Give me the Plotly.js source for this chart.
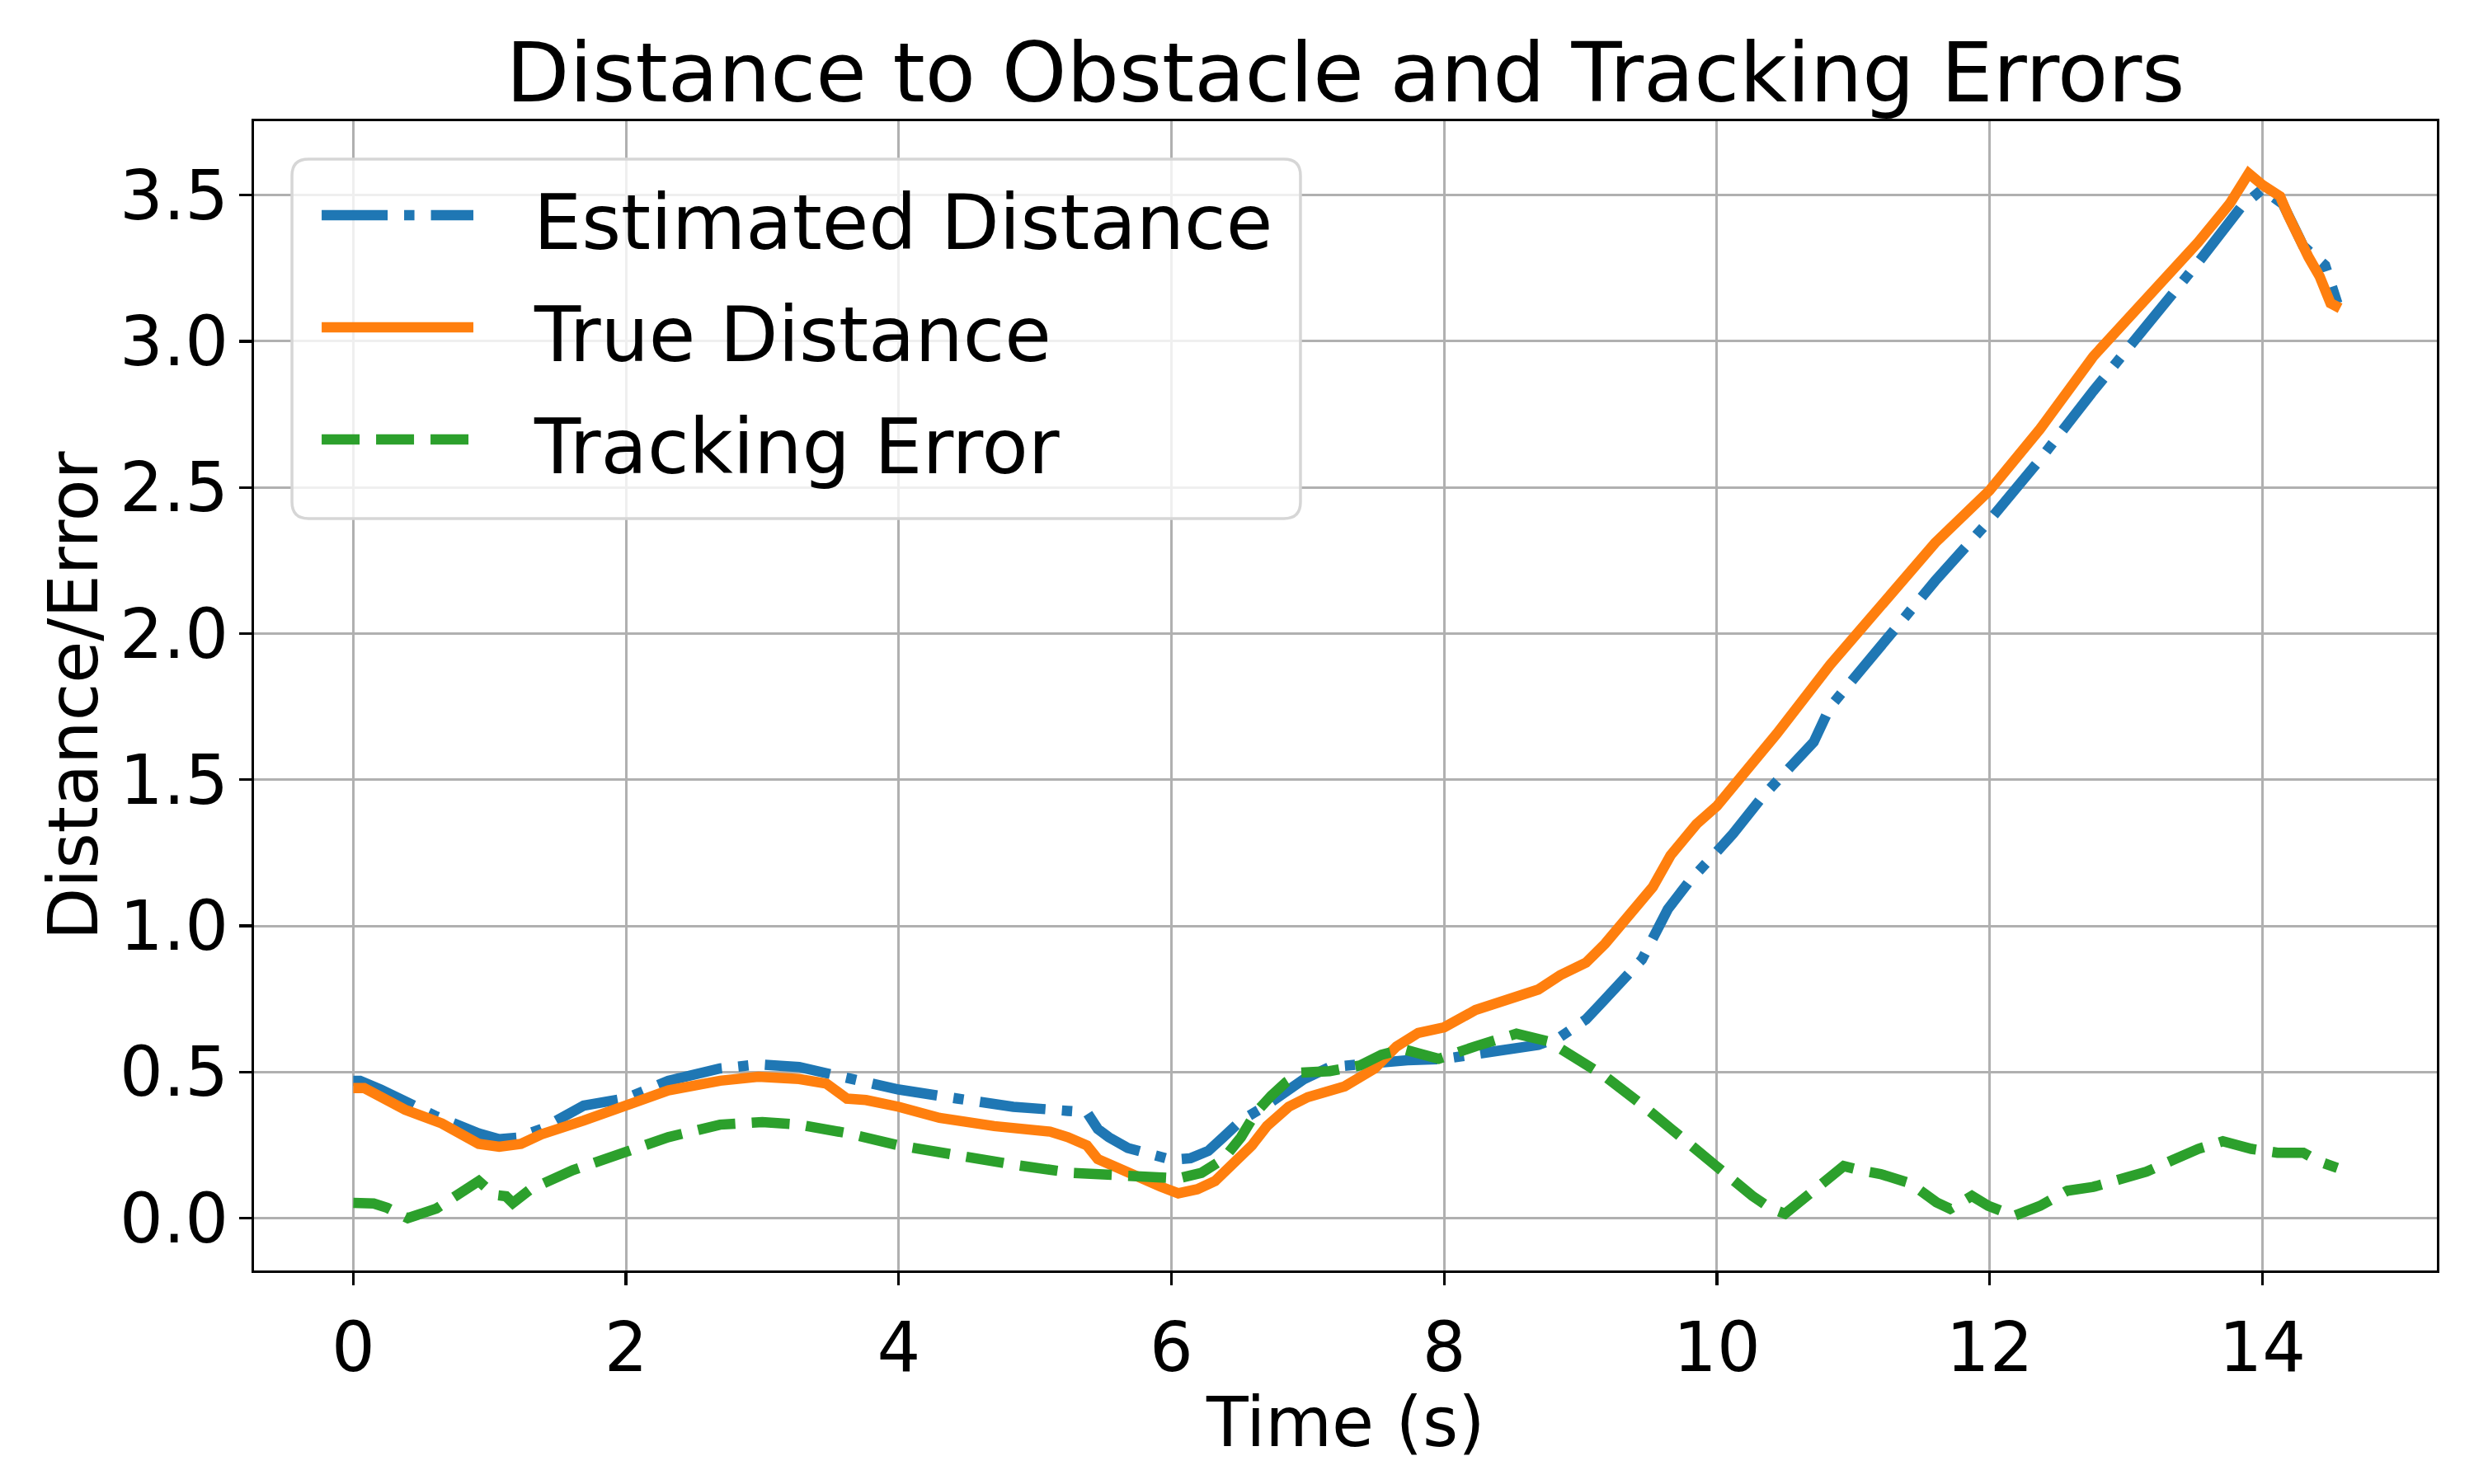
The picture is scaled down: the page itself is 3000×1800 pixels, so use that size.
<!DOCTYPE html>
<html>
<head>
<meta charset="utf-8">
<script src="https://cdn.plot.ly/plotly-3.0.1.min.js"></script>
<style>
  body { margin: 0; background: #fff; }
  #plot { width: 3000px; height: 1800px; }
</style>
</head>
<body>
<div id="plot"></div>
<script>
// values
const timeEst = [0.00, 0.05, 0.20, 0.38, 0.60, 0.92, 1.07, 1.20, 1.38, 1.69, 2.00, 2.31, 2.69, 2.97, 3.27, 3.62, 4.00, 4.43, 4.84, 5.24, 5.38, 5.46, 5.54, 5.68, 5.84, 6.00, 6.14, 6.27, 6.38, 6.51, 6.68, 6.84, 6.97, 7.16, 7.45, 7.73, 8.00, 8.37, 8.69, 8.85, 9.04, 9.15, 9.31, 9.45, 9.64, 9.80, 10.00, 10.12, 10.34, 10.55, 10.71, 10.83, 11.22, 11.60, 12.00, 12.37, 12.76, 13.15, 13.53, 13.84, 14.00, 14.15, 14.30, 14.46, 14.55];
const estDistance = [0.470, 0.470, 0.440, 0.400, 0.350, 0.290, 0.270, 0.275, 0.305, 0.385, 0.410, 0.470, 0.512, 0.526, 0.517, 0.480, 0.440, 0.409, 0.381, 0.367, 0.362, 0.305, 0.277, 0.240, 0.216, 0.200, 0.205, 0.230, 0.277, 0.334, 0.381, 0.428, 0.475, 0.517, 0.530, 0.540, 0.545, 0.566, 0.593, 0.620, 0.680, 0.734, 0.809, 0.885, 1.057, 1.154, 1.254, 1.316, 1.445, 1.543, 1.629, 1.749, 1.970, 2.180, 2.388, 2.596, 2.830, 3.050, 3.270, 3.457, 3.520, 3.470, 3.326, 3.260, 3.130];

const timeTrue = [0.00, 0.08, 0.38, 0.65, 0.92, 1.07, 1.23, 1.38, 1.69, 2.00, 2.31, 2.69, 2.97, 3.27, 3.47, 3.62, 3.76, 4.00, 4.30, 4.70, 5.11, 5.24, 5.38, 5.46, 5.59, 5.78, 5.92, 6.05, 6.19, 6.32, 6.46, 6.59, 6.70, 6.86, 7.00, 7.27, 7.49, 7.65, 7.81, 8.00, 8.23, 8.50, 8.69, 8.85, 9.04, 9.18, 9.37, 9.53, 9.66, 9.85, 10.00, 10.18, 10.44, 10.83, 11.22, 11.60, 12.00, 12.37, 12.76, 13.15, 13.53, 13.76, 13.90, 14.00, 14.13, 14.19, 14.25, 14.34, 14.42, 14.50, 14.57];
const trueDistance = [0.445, 0.445, 0.371, 0.324, 0.254, 0.244, 0.254, 0.287, 0.334, 0.390, 0.437, 0.470, 0.484, 0.476, 0.460, 0.409, 0.404, 0.381, 0.343, 0.315, 0.296, 0.277, 0.249, 0.202, 0.174, 0.132, 0.108, 0.085, 0.099, 0.127, 0.193, 0.249, 0.315, 0.381, 0.414, 0.451, 0.512, 0.587, 0.634, 0.653, 0.712, 0.755, 0.782, 0.831, 0.874, 0.939, 1.046, 1.133, 1.241, 1.348, 1.410, 1.510, 1.658, 1.893, 2.101, 2.310, 2.490, 2.700, 2.948, 3.144, 3.339, 3.470, 3.574, 3.535, 3.496, 3.430, 3.366, 3.287, 3.222, 3.130, 3.113];

const timeErr = [0.00, 0.15, 0.25, 0.40, 0.61, 0.92, 1.03, 1.12, 1.17, 1.30, 1.61, 2.00, 2.31, 2.69, 3.00, 3.27, 3.62, 4.00, 4.49, 4.84, 5.27, 5.68, 6.05, 6.22, 6.38, 6.51, 6.62, 6.73, 6.84, 6.95, 7.16, 7.38, 7.54, 7.70, 7.96, 8.23, 8.53, 8.77, 8.96, 9.18, 9.45, 9.72, 9.99, 10.26, 10.39, 10.50, 10.66, 10.93, 11.07, 11.20, 11.42, 11.61, 11.71, 11.87, 11.99, 12.18, 12.37, 12.57, 12.76, 12.95, 13.15, 13.34, 13.53, 13.71, 13.92, 14.11, 14.30, 14.42, 14.55];
const trackError = [0.052, 0.050, 0.035, 0.000, 0.033, 0.127, 0.080, 0.075, 0.052, 0.099, 0.164, 0.230, 0.277, 0.320, 0.329, 0.320, 0.291, 0.249, 0.207, 0.183, 0.155, 0.141, 0.136, 0.155, 0.202, 0.277, 0.362, 0.418, 0.465, 0.498, 0.503, 0.522, 0.559, 0.578, 0.545, 0.588, 0.631, 0.604, 0.550, 0.485, 0.388, 0.280, 0.180, 0.076, 0.035, 0.015, 0.076, 0.178, 0.162, 0.151, 0.119, 0.054, 0.032, 0.076, 0.042, 0.008, 0.042, 0.094, 0.107, 0.133, 0.159, 0.198, 0.237, 0.263, 0.237, 0.224, 0.224, 0.193, 0.172];

const seriesNames = ['Estimated Distance', 'True Distance', 'Tracking Error'];
const seriesColors = ['#1f77b4', '#ff7f0e', '#2ca02c'];
const seriesDash = ['80px,20px,12.5px,20px', 'solid', '46px,20px'];

const xTicks = [0, 2, 4, 6, 8, 10, 12, 14];
const yTicks = [0.0, 0.5, 1.0, 1.5, 2.0, 2.5, 3.0, 3.5];

document.addEventListener('DOMContentLoaded', function () {
	const plotDiv = document.getElementById('plot');
	const font = 'DejaVu Sans, sans-serif';
	const lineW = 12.5;

	const xs = [timeEst, timeTrue, timeErr];
	const ys = [estDistance, trueDistance, trackError];
	const traces = xs.map(function (x, i) {
		return {
			x: x,
			y: ys[i],
			type: 'scatter',
			mode: 'lines',
			name: seriesNames[i],
			showlegend: false,
			line: {color: seriesColors[i], width: lineW, dash: seriesDash[i]}
		};
	});

	// legend drawn by hand so the line samples get matplotlib's long handles
	const box = {x0: 0.0174, x1: 0.4794, y0: 0.6542, y1: 0.967};
	const rx = 0.0076, ry = 0.0143;
	const boxPath = 'M' + (box.x0 + rx) + ',' + box.y1 +
		' L' + (box.x1 - rx) + ',' + box.y1 +
		' Q' + box.x1 + ',' + box.y1 + ' ' + box.x1 + ',' + (box.y1 - ry) +
		' L' + box.x1 + ',' + (box.y0 + ry) +
		' Q' + box.x1 + ',' + box.y0 + ' ' + (box.x1 - rx) + ',' + box.y0 +
		' L' + (box.x0 + rx) + ',' + box.y0 +
		' Q' + box.x0 + ',' + box.y0 + ' ' + box.x0 + ',' + (box.y0 + ry) +
		' L' + box.x0 + ',' + (box.y1 - ry) +
		' Q' + box.x0 + ',' + box.y1 + ' ' + (box.x0 + rx) + ',' + box.y1 + ' Z';
	const shapes = [{
		type: 'path', xref: 'paper', yref: 'paper', path: boxPath,
		fillcolor: 'rgba(255,255,255,0.8)', line: {color: '#d6d6d6', width: 3.5}, layer: 'above'
	}];
	const annotations = [];
	const rowY = [0.9182, 0.8207, 0.7231];
	seriesNames.forEach(function (name, i) {
		shapes.push({
			type: 'line', xref: 'paper', yref: 'paper',
			x0: 0.031, x1: 0.1005, y0: rowY[i], y1: rowY[i],
			line: {color: seriesColors[i], width: lineW, dash: seriesDash[i]}, layer: 'above'
		});
		annotations.push({
			xref: 'paper', yref: 'paper', x: 0.1273, y: rowY[i] - 0.007,
			xanchor: 'left', yanchor: 'middle', showarrow: false,
			text: name, font: {family: font, size: 92, color: '#000'}
		});
	});

	// x axis label placed as text so it sits close to the ticks as in the reference
	annotations.push({
		xref: 'paper', yref: 'paper', x: 0.5, y: -0.096,
		xanchor: 'center', yanchor: 'top', showarrow: false,
		text: 'Time (s)', font: {family: font, size: 83, color: '#000'}
	});

	const axisCommon = {
		showgrid: true,
		gridcolor: '#b0b0b0',
		gridwidth: 3,
		zeroline: false,
		showline: true,
		mirror: true,
		linecolor: '#000',
		linewidth: 3.3,
		ticks: 'outside',
		ticklen: 15,
		tickwidth: 3.3,
		tickcolor: '#000',
		tickfont: {family: font, size: 83, color: '#000'},
		automargin: false
	};

	const layout = {
		width: 3000,
		height: 1800,
		paper_bgcolor: '#fff',
		plot_bgcolor: '#fff',
		margin: {l: 308, r: 45, t: 147, b: 259},
		title: {
			text: 'Distance to Obstacle and Tracking Errors',
			font: {family: font, size: 100, color: '#000'},
			x: 0.5, xref: 'paper', xanchor: 'center',
			y: 1, yref: 'paper', yanchor: 'bottom', pad: {b: 24}
		},
		xaxis: Object.assign({}, axisCommon, {
			range: [-0.728, 15.28],
			tickvals: xTicks,
			ticktext: xTicks.map(String),
			ticklabelstandoff: 4
		}),
		yaxis: Object.assign({}, axisCommon, {
			range: [-0.179, 3.753],
			tickvals: yTicks,
			ticktext: yTicks.map(function (v) { return v.toFixed(1); }),
			ticklabelstandoff: -4,
			title: {text: 'Distance/Error', font: {family: font, size: 83, color: '#000'}, standoff: 0}
		}),
		shapes: shapes,
		annotations: annotations,
		showlegend: false
	};

	Plotly.newPlot(plotDiv, traces, layout, {displayModeBar: false, staticPlot: true});
});
</script>
</body>
</html>
